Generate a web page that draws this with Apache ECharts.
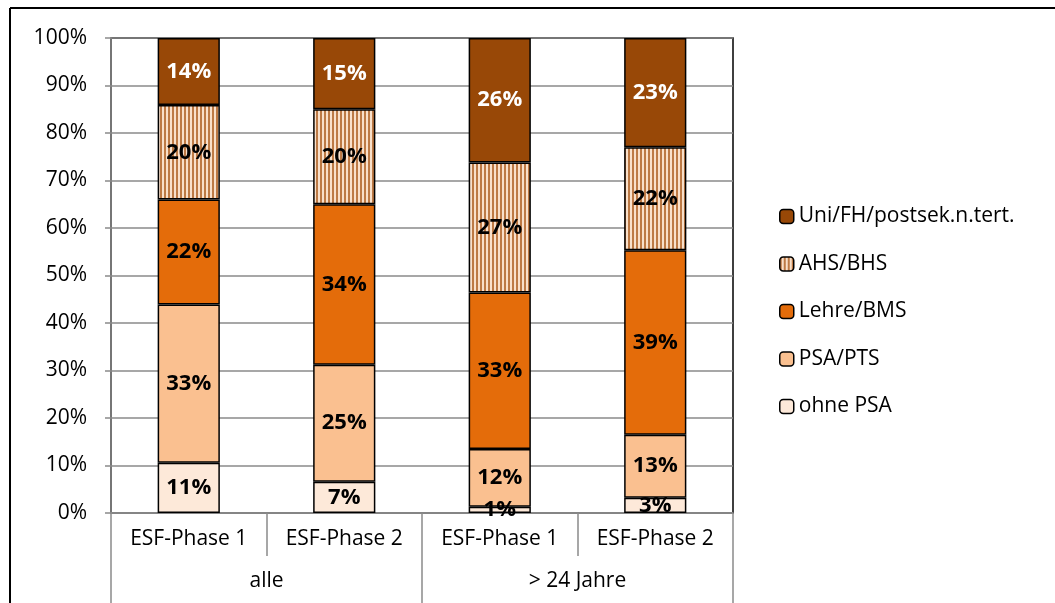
<!DOCTYPE html>
<html>
<head>
<meta charset="utf-8">
<script src="https://cdn.jsdelivr.net/npm/echarts@6/dist/echarts.min.js"></script>
<style>
  html, body { margin: 0; padding: 0; background: #fff; }
  #chart { width: 1055px; height: 603px; }
</style>
</head>
<body>
<div id="chart"></div>
<script>
// Daten
const phases = ['ESF-Phase 1', 'ESF-Phase 2', 'ESF-Phase 1', 'ESF-Phase 2'];
const groups = ['alle', '> 24 Jahre'];
const seriesNames = ['ohne PSA', 'PSA/PTS', 'Lehre/BMS', 'AHS/BHS', 'Uni/FH/postsek.n.tert.'];
const ohnePSA = [10.6, 6.6, 1.3, 3.2];
const psaPTS = [33.3, 24.6, 12.2, 13.3];
const lehreBMS = [22.1, 33.8, 32.9, 38.8];
const ahsBHS = [19.9, 20.0, 27.4, 21.7];
const uniFH = [14.1, 15.0, 26.2, 23.0];
const yTicks = [0, 10, 20, 30, 40, 50, 60, 70, 80, 90, 100];

// Streifenmuster fuer AHS/BHS
function stripePattern() {
  const c = document.createElement('canvas');
  c.width = 4; c.height = 4;
  const ctx = c.getContext('2d');
  ctx.fillStyle = '#f9e0ca';
  ctx.fillRect(0, 0, 4, 4);
  ctx.fillStyle = '#bd7a45';
  ctx.fillRect(0, 0, 2, 4);
  return { image: c, repeat: 'repeat' };
}

const FONT = '"Open Sans", sans-serif';
const FS = 21;
const GRAY = '#8a8a8a';

const colors = ['#fde9d9', '#fac090', '#e46c0a', stripePattern(), '#984807'];
const values = [ohnePSA, psaPTS, lehreBMS, ahsBHS, uniFH];

const chart = echarts.init(document.getElementById('chart'));

const series = seriesNames.map((name, i) => ({
  name: name,
  type: 'bar',
  stack: 'total',
  xAxisIndex: 0,
  barWidth: '40%',
  data: values[i],
  itemStyle: { color: colors[i], borderColor: '#000', borderWidth: 1.5 },
  label: {
    show: true,
    position: 'inside',
    formatter: p => Math.round(p.value) + '%',
    fontFamily: FONT,
    fontWeight: 'bold',
    fontSize: 22,
    color: i === 4 ? '#fff' : '#000'
  }
}));

chart.setOption({
  animation: false,
  backgroundColor: '#fff',
  graphic: [
    { type: 'line', shape: { x1: 10, y1: 8, x2: 1055, y2: 8 }, style: { stroke: '#000', lineWidth: 2 } },
    { type: 'line', shape: { x1: 10, y1: 8, x2: 10, y2: 603 }, style: { stroke: '#000', lineWidth: 2 } }
  ],
  grid: {
    left: 111, right: 322, top: 38, bottom: 90,
    show: true, borderColor: '#000', borderWidth: 1.5
  },
  legend: {
    orient: 'vertical',
    left: 774,
    top: 201,
    itemWidth: 14,
    itemHeight: 14,
    itemGap: 26.5,
    data: seriesNames.slice().reverse(),
    textStyle: { fontFamily: FONT, fontSize: FS, color: '#000' },
    itemStyle: { borderColor: '#000', borderWidth: 1.5 }
  },
  xAxis: [
    {
      type: 'category',
      data: phases,
      axisLine: { show: true, lineStyle: { color: GRAY, width: 1.5 } },
      axisTick: { show: true, interval: 0, length: 43, lineStyle: { color: GRAY, width: 1.5 } },
      axisLabel: { interval: 0, margin: 16, fontFamily: FONT, fontSize: FS, color: '#000' }
    },
    {
      type: 'category',
      position: 'bottom',
      data: groups,
      axisLine: { show: false },
      axisTick: { show: true, interval: 0, length: 92, lineStyle: { color: GRAY, width: 1.5 } },
      axisLabel: { interval: 0, margin: 58, fontFamily: FONT, fontSize: FS, color: '#000' }
    }
  ],
  yAxis: {
    type: 'value',
    min: yTicks[0],
    max: yTicks[yTicks.length - 1],
    interval: 10,
    axisLine: { show: true, lineStyle: { color: GRAY, width: 1.5 } },
    axisTick: { show: true, length: 6, lineStyle: { color: GRAY, width: 1.5 } },
    splitLine: { lineStyle: { color: GRAY, width: 1.5 } },
    axisLabel: { formatter: '{value}%', margin: 24, fontFamily: FONT, fontSize: FS, color: '#000' }
  },
  series: series
});
</script>
</body>
</html>
